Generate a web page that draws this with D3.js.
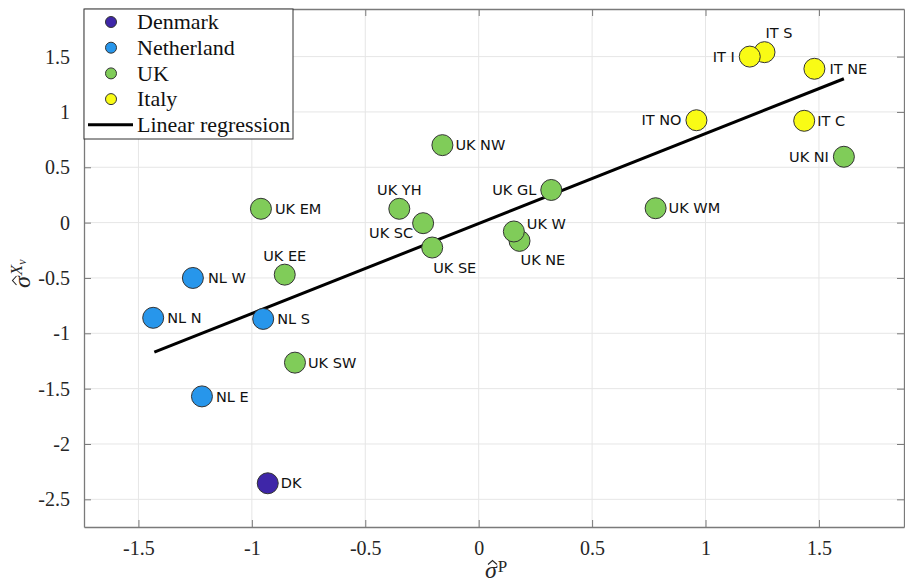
<!DOCTYPE html>
<html>
<head>
<meta charset="utf-8">
<script src="https://cdn.jsdelivr.net/npm/d3@7"></script>
<style>
body { margin: 0; background: #fff; }
</style>
</head>
<body>
<svg id="chart" width="905" height="583"></svg>
<script>
'use strict';

// data
const countries = ['Denmark', 'Netherland', 'UK', 'Italy'];
const regions = ['DK', 'NL E', 'NL N', 'NL W', 'NL S',
    'UK EE', 'UK SW', 'UK EM', 'UK YH', 'UK SC', 'UK SE', 'UK GL', 'UK NE', 'UK W', 'UK NW', 'UK WM', 'UK NI',
    'IT NO', 'IT S', 'IT I', 'IT NE', 'IT C'];
const regionCountry = [0, 1, 1, 1, 1,
    2, 2, 2, 2, 2, 2, 2, 2, 2, 2, 2, 2,
    3, 3, 3, 3, 3];
const sigmaP = [-0.93, -1.22, -1.435, -1.26, -0.95,
    -0.855, -0.81, -0.96, -0.35, -0.245, -0.205, 0.32, 0.18, 0.155, -0.16, 0.78, 1.61,
    0.96, 1.26, 1.195, 1.48, 1.435];
const sigmaX = [-2.355, -1.57, -0.86, -0.50, -0.87,
    -0.47, -1.265, 0.125, 0.125, -0.005, -0.225, 0.295, -0.165, -0.08, 0.70, 0.13, 0.595,
    0.925, 1.54, 1.50, 1.39, 0.92];
const regX = [-1.43, 1.61];
const regY = [-1.17, 1.30];
const xTicks = [-1.5, -1, -0.5, 0, 0.5, 1, 1.5];
const yTicks = [-2.5, -2, -1.5, -1, -0.5, 0, 0.5, 1, 1.5];

// styling
const colors = ['#3E26A8', '#2796EB', '#80CC59', '#F9FB15'];
// label offset from marker centre: dx, dy, anchor
const labelPlace = {
    'DK': [13, 0, 'start'], 'NL E': [14, 0, 'start'], 'NL N': [14, 0, 'start'],
    'NL W': [15, 0, 'start'], 'NL S': [14, 0, 'start'],
    'UK EE': [0, -19, 'middle'], 'UK SW': [13, 0, 'start'], 'UK EM': [14, 0, 'start'],
    'UK YH': [0, -19, 'middle'], 'UK SC': [-10, 10, 'end'], 'UK SE': [1, 20, 'start'],
    'UK GL': [-15, 0, 'end'], 'UK NE': [1, 19, 'start'], 'UK W': [13, -8, 'start'],
    'UK NW': [13, 0, 'start'], 'UK WM': [13, 0, 'start'], 'UK NI': [-15, 0, 'end'],
    'IT NO': [-15, 0, 'end'], 'IT S': [1, -19, 'start'], 'IT I': [-15, 0, 'end'],
    'IT NE': [15, 0, 'start'], 'IT C': [13, 0, 'start']
};

const margin = {top: 9, right: 1, bottom: 56, left: 84};
const width = 905 - margin.left - margin.right;
const height = 583 - margin.top - margin.bottom;
const serif = '"Liberation Serif", "Times New Roman", serif';

const svg = d3.select('#chart');
const g = svg.append('g').attr('transform', `translate(${margin.left},${margin.top})`);

const x = d3.scaleLinear().domain([-1.74, 1.875]).range([0, width]);
const y = d3.scaleLinear().domain([-2.75, 1.93]).range([height, 0]);

// grid
g.append('g').selectAll('line').data(xTicks).join('line')
    .attr('x1', d => x(d)).attr('x2', d => x(d))
    .attr('y1', 0).attr('y2', height)
    .attr('stroke', '#e6e6e6');
g.append('g').selectAll('line').data(yTicks).join('line')
    .attr('y1', d => y(d)).attr('y2', d => y(d))
    .attr('x1', 0).attr('x2', width)
    .attr('stroke', '#e6e6e6');

// axes, ticks pointing inward on all four sides
function styleAxis(sel) {
    sel.select('.domain').attr('stroke', '#7a7a7a').attr('stroke-width', 1.3);
    sel.selectAll('.tick line').attr('stroke', '#7a7a7a');
    sel.selectAll('.tick text').attr('fill', '#262626')
        .style('font-family', serif).style('font-size', '20px');
}
g.append('g').attr('transform', `translate(0,${height})`)
    .call(d3.axisBottom(x).tickValues(xTicks).tickSizeInner(-7).tickSizeOuter(0).tickPadding(14).tickFormat(d => String(d)))
    .call(styleAxis);
g.append('g')
    .call(d3.axisLeft(y).tickValues(yTicks).tickSizeInner(-7).tickSizeOuter(0).tickPadding(14).tickFormat(d => String(d)))
    .call(styleAxis);
g.append('g')
    .call(d3.axisTop(x).tickValues(xTicks).tickSizeInner(-7).tickSizeOuter(0).tickFormat(''))
    .call(styleAxis);
g.append('g').attr('transform', `translate(${width},0)`)
    .call(d3.axisRight(y).tickValues(yTicks).tickSizeInner(-7).tickSizeOuter(0).tickFormat(''))
    .call(styleAxis);

// regression line
g.append('line')
    .attr('x1', x(regX[0])).attr('y1', y(regY[0]))
    .attr('x2', x(regX[1])).attr('y2', y(regY[1]))
    .attr('stroke', '#000').attr('stroke-width', 3);

// points
const idx = d3.range(regions.length);
g.append('g').selectAll('circle').data(idx).join('circle')
    .attr('cx', i => x(sigmaP[i]))
    .attr('cy', i => y(sigmaX[i]))
    .attr('r', 10.5)
    .attr('fill', i => colors[regionCountry[i]])
    .attr('stroke', '#333')
    .attr('stroke-width', 1);

g.append('g').selectAll('text').data(idx).join('text')
    .attr('x', i => x(sigmaP[i]) + labelPlace[regions[i]][0])
    .attr('y', i => y(sigmaX[i]) + labelPlace[regions[i]][1])
    .attr('dy', '0.36em')
    .attr('text-anchor', i => labelPlace[regions[i]][2])
    .style('font-family', '"DejaVu Sans", sans-serif')
    .style('font-size', '14.5px')
    .attr('fill', '#111')
    .text(i => regions[i]);

// legend
const leg = svg.append('g').attr('transform', 'translate(84,9)');
leg.append('rect').attr('width', 209).attr('height', 130)
    .attr('fill', '#fff').attr('stroke', '#333').attr('stroke-width', 1);
countries.forEach((c, i) => {
    const row = leg.append('g').attr('transform', `translate(0,${13 + i * 25.7})`);
    row.append('circle').attr('cx', 27).attr('r', 5.5)
        .attr('fill', colors[i]).attr('stroke', '#333');
    row.append('text').attr('x', 53).attr('dy', '0.33em')
        .style('font-family', serif).style('font-size', '22px').attr('fill', '#111')
        .text(c);
});
const lrow = leg.append('g').attr('transform', `translate(0,${13 + 4 * 25.7})`);
lrow.append('line').attr('x1', 4).attr('x2', 49)
    .attr('stroke', '#000').attr('stroke-width', 3);
lrow.append('text').attr('x', 53).attr('dy', '0.33em')
    .style('font-family', serif).style('font-size', '22px').attr('fill', '#111')
    .text('Linear regression');

// hat accent drawn as a small path above the sigma
function hat(sel) {
    sel.append('path').attr('d', 'M3,-13.5 L7.5,-17.5 L12,-13.5')
        .attr('fill', 'none').attr('stroke', '#262626').attr('stroke-width', 1.1);
}

// x axis label: sigma-hat with superscript P
const xl = svg.append('g').attr('transform', 'translate(485,578)');
const xt = xl.append('text').style('font-family', serif).attr('fill', '#262626');
xt.append('tspan').style('font-size', '24px').style('font-style', 'italic').text('σ');
xt.append('tspan').attr('dx', 1).attr('dy', -6).style('font-size', '17px').text('P');
xl.call(hat);

// y axis label: sigma-hat with superscript X sub nu
const yl = svg.append('g').attr('transform', 'translate(30,288) rotate(-90)');
const yt = yl.append('text').style('font-family', serif).attr('fill', '#262626');
yt.append('tspan').style('font-size', '24px').style('font-style', 'italic').text('σ');
yt.append('tspan').attr('dx', 1).attr('dy', -8)
    .style('font-size', '17px').style('font-style', 'italic').text('X');
yt.append('tspan').attr('dy', 4)
    .style('font-size', '12px').style('font-style', 'italic').text('ν');
yl.call(hat);
</script>
</body>
</html>
